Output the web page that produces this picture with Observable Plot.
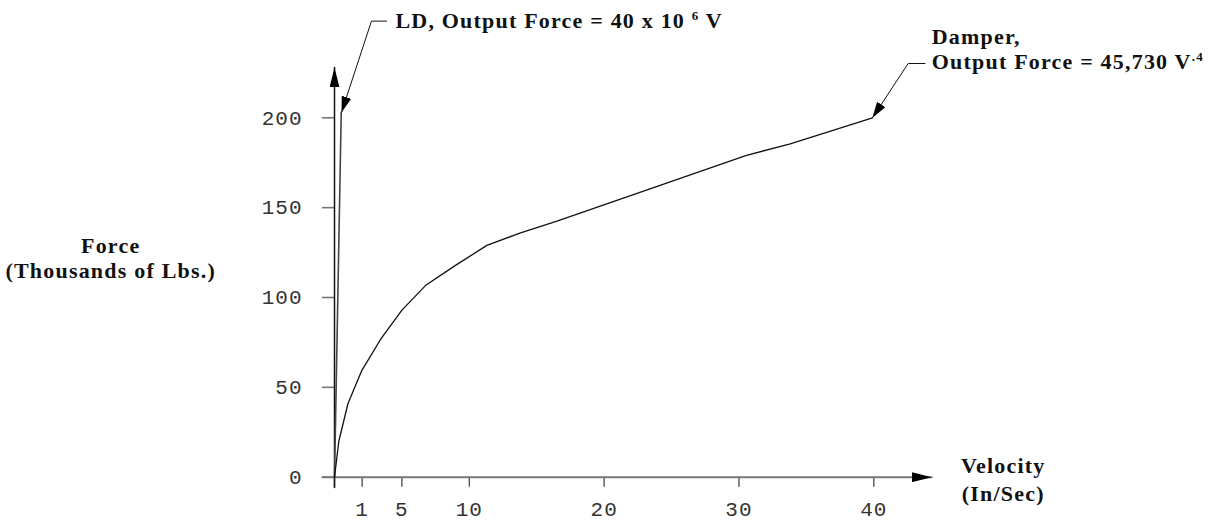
<!DOCTYPE html>
<html>
<head>
<meta charset="utf-8">
<script src="https://cdn.jsdelivr.net/npm/d3@7"></script>
<script src="https://cdn.jsdelivr.net/npm/@observablehq/plot@0.6"></script>
<style>
  html, body { margin: 0; padding: 0; background: #fff; }
</style>
</head>
<body>
<div id="chart"></div>
<script>
// ---- data ----
const damperV = [0, 0.32, 1.0, 2.0, 3.4, 5.0, 6.8, 9.0, 11.3, 13.8, 16.5, 23.4, 30.5, 33.8, 39.9];
const damperF = [0, 20, 41, 59, 76.5, 93, 107, 118, 129, 136, 142.5, 160.5, 179, 185.5, 200];
const ldV = [0, 0.5];
const ldF = [0, 203];
const yTickValues = [0, 50, 100, 150, 200];
const xTickValues = [0, 2.05, 5, 10, 20, 30, 40];
const xTickLabels = ["", "1", "5", "10", "20", "30", "40"];
const yTitleLines = ["Force", "(Thousands of Lbs.)"];
const xTitleLines = ["Velocity", "(In/Sec)"];
const ldLabelParts = ["LD, Output Force = 40 x 10 ", "6", " V"];      // odd index = superscript
const damperLabel1 = "Damper,";
const damperLabel2Parts = ["Output Force = 45,730 V", ".4"];

// ---- build tables ----
const damper = damperV.map((v, i) => ({v, f: damperF[i]}));
const ld = ldV.map((v, i) => ({v, f: ldF[i]}));

const W = 1215, H = 522;
const serif = "'Liberation Serif', 'Times New Roman', serif";
const mono = "'Liberation Mono', 'DejaVu Sans Mono', monospace";
const titleStyle = {fontSize: 22, fontWeight: "bold", fontFamily: serif, fill: "#111"};

const plot = Plot.plot({
  width: W, height: H,
  marginLeft: 334, marginRight: W - 873.3,
  marginTop: 117.3, marginBottom: H - 476.7,
  x: {domain: [0, 40]},
  y: {domain: [0, 200]},
  style: {background: "#fff", overflow: "visible"},
  marks: [
    // ticks + tick labels
    Plot.axisY(yTickValues, {
      tickSize: 12, tickPadding: 20, stroke: "#777", strokeWidth: 1.6,
      fill: "#333", fontSize: 21, fontFamily: mono, label: null
    }),
    Plot.axisX(xTickValues, {
      tickSize: 10, tickPadding: 14, stroke: "#555", strokeWidth: 1.4,
      fill: "#333", fontSize: 21, fontFamily: mono, label: null,
      tickFormat: d => xTickLabels[xTickValues.indexOf(d)]
    }),
    // axis lines (arrowheads added below)  -> line groups 0, 1
    Plot.line([{v: -0.9, f: 0}, {v: 44.3, f: 0}], {x: "v", y: "f", stroke: "#777", strokeWidth: 2}),
    Plot.line([{v: 0, f: -5.8}, {v: 0, f: 228}], {x: "v", y: "f", stroke: "#111", strokeWidth: 1.5}),
    // series -> line groups 2, 3
    Plot.line(ld, {x: "v", y: "f", stroke: "#444", strokeWidth: 1.6}),
    Plot.line(damper, {x: "v", y: "f", stroke: "#111", strokeWidth: 1.3}),
    // annotation leaders -> line groups 4, 5
    Plot.line([{v: 3.86, f: 253.8}, {v: 2.74, f: 253.8}, {v: 0.52, f: 203}], {x: "v", y: "f", stroke: "#111", strokeWidth: 1}),
    Plot.line([{v: 43.8, f: 230.2}, {v: 42.55, f: 230.2}, {v: 39.9, f: 200}], {x: "v", y: "f", stroke: "#111", strokeWidth: 1}),
    // annotation texts
    Plot.text([ldLabelParts.join("")], {
      x: 4.52, y: 249.7, text: d => d, textAnchor: "start", lineAnchor: "bottom", ...titleStyle
    }),
    Plot.text([damperLabel1, damperLabel2Parts.join("")], {
      x: 44.3, y: (d, i) => i === 0 ? 241 : 227.4, text: d => d,
      textAnchor: "start", lineAnchor: "bottom", ...titleStyle
    }),
    // axis titles
    Plot.text(yTitleLines, {
      x: -16.6, y: (d, i) => i === 0 ? 125 : 111.1, text: d => d,
      textAnchor: "middle", lineAnchor: "bottom", ...titleStyle
    }),
    Plot.text(xTitleLines, {
      x: 49.6, y: (d, i) => i === 0 ? 2.6 : -13.0, text: d => d,
      textAnchor: "middle", lineAnchor: "bottom", ...titleStyle
    })
  ]
});

// ---- post-processing: filled arrowheads and superscripts ----
const NS = "http://www.w3.org/2000/svg";
const defs = document.createElementNS(NS, "defs");
function makeMarker(id, len, wid) {
  const m = document.createElementNS(NS, "marker");
  m.setAttribute("id", id);
  m.setAttribute("viewBox", `${-len} ${-wid / 2} ${len} ${wid}`);
  m.setAttribute("markerUnits", "userSpaceOnUse");
  m.setAttribute("markerWidth", len);
  m.setAttribute("markerHeight", wid);
  m.setAttribute("refX", 0);
  m.setAttribute("refY", 0);
  m.setAttribute("orient", "auto");
  const p = document.createElementNS(NS, "path");
  p.setAttribute("d", `M${-len},${-wid / 2}L0,0L${-len},${wid / 2}Z`);
  p.setAttribute("fill", "#000");
  p.setAttribute("stroke", "none");
  m.appendChild(p);
  defs.appendChild(m);
}
makeMarker("axArrow", 20, 10);
makeMarker("anArrow", 16, 10);
plot.appendChild(defs);

const lineGroups = plot.querySelectorAll('g[aria-label="line"]');
[0, 1].forEach(i => lineGroups[i] && lineGroups[i].querySelectorAll("path").forEach(p => p.setAttribute("marker-end", "url(#axArrow)")));
[4, 5].forEach(i => lineGroups[i] && lineGroups[i].querySelectorAll("path").forEach(p => p.setAttribute("marker-end", "url(#anArrow)")));

function superscript(textEl, parts) {
  textEl.textContent = "";
  parts.forEach((s, i) => {
    const t = document.createElementNS(NS, "tspan");
    t.textContent = s;
    if (i % 2 === 1) {
      t.setAttribute("dy", "-8");
      t.setAttribute("font-size", "13");
    } else if (i > 0) {
      t.setAttribute("dy", "8");
    }
    textEl.appendChild(t);
  });
}
plot.querySelectorAll('g[aria-label="text"] text').forEach(t => {
  t.setAttribute("letter-spacing", "1.2");
  if (t.textContent === ldLabelParts.join("")) superscript(t, ldLabelParts);
  else if (t.textContent === damperLabel2Parts.join("")) superscript(t, damperLabel2Parts);
});
plot.querySelectorAll('g[aria-label="y-axis tick label"] text, g[aria-label="x-axis tick label"] text')
  .forEach(t => t.setAttribute("letter-spacing", "1"));

document.getElementById("chart").appendChild(plot);
</script>
</body>
</html>
